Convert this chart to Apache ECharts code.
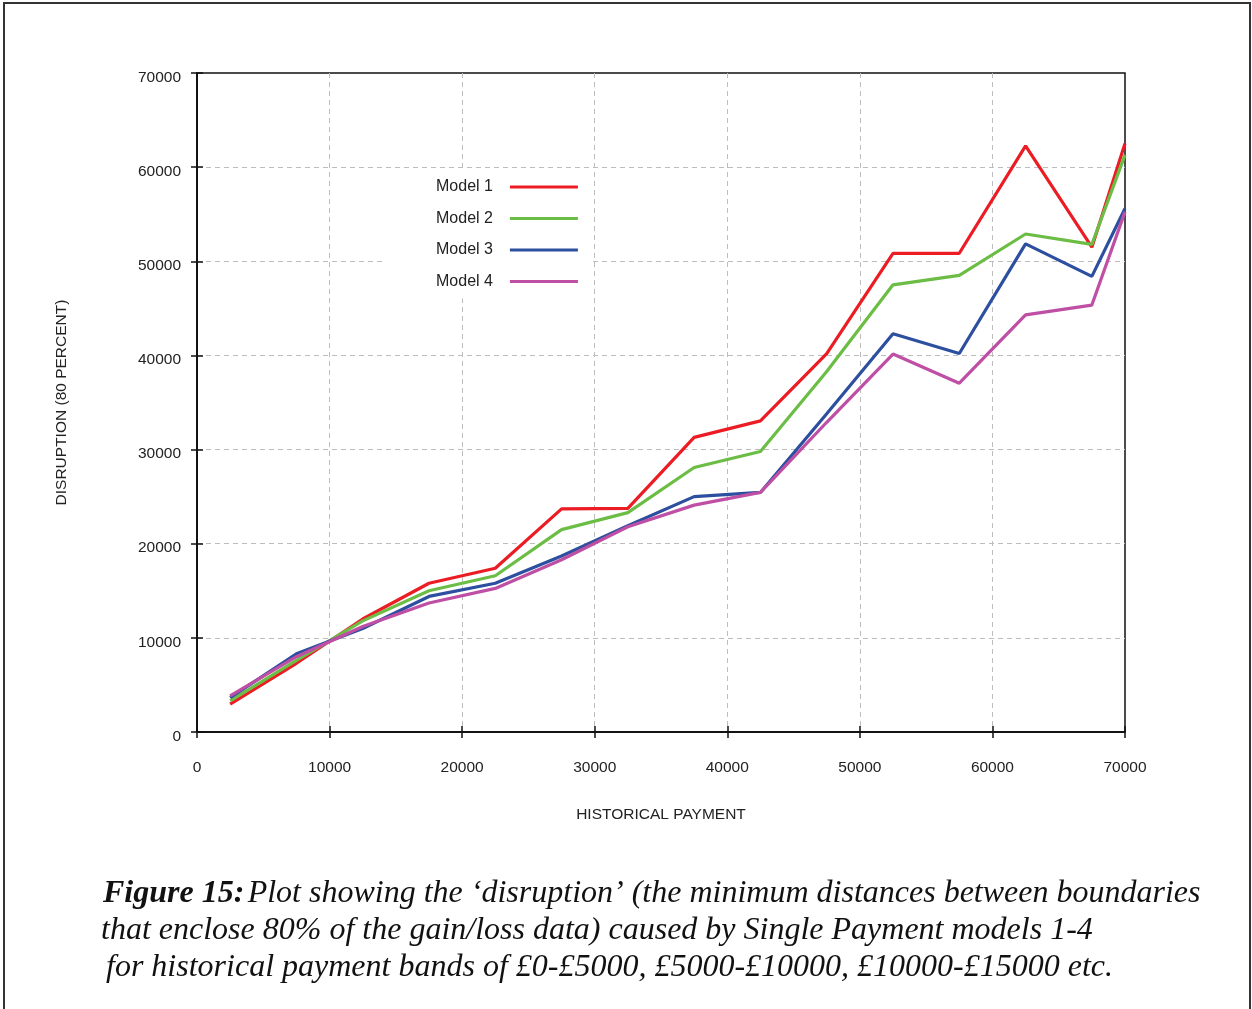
<!DOCTYPE html>
<html>
<head>
<meta charset="utf-8">
<script src="https://cdn.jsdelivr.net/npm/echarts@6/dist/echarts.min.js"></script>
<style>
html,body{margin:0;padding:0;background:#fff;}
#chart{width:1252px;height:1009px;}
</style>
</head>
<body>
<div id="chart"></div>
<script>
// Historical payment band midpoints (last point at axis end)
var payments = [2500, 7500, 12500, 17500, 22500, 27500, 32500, 37500, 42500, 47500, 52500, 57500, 62500, 67500, 70000];
var model1 = [2950, 7300, 12000, 15800, 17400, 23700, 23750, 31300, 33050, 40200, 50850, 50850, 62250, 51500, 62500];
var model2 = [3300, 7600, 11800, 15000, 16600, 21500, 23300, 28100, 29800, 38300, 47500, 48500, 52900, 51800, 61300];
var model3 = [3650, 8300, 11000, 14400, 15800, 18700, 21900, 25000, 25450, 33800, 42300, 40200, 51850, 48400, 55600];
var model4 = [3850, 8000, 11200, 13700, 15250, 18300, 21800, 24100, 25450, 32900, 40150, 37050, 44300, 45350, 55250];
var seriesNames = ['Model 1', 'Model 2', 'Model 3', 'Model 4'];
var seriesColors = ['#ec1c24', '#6cbd45', '#2d4f9f', '#bf4fa5'];
var xTicks = [0, 10000, 20000, 30000, 40000, 50000, 60000, 70000];
var yTicks = [0, 10000, 20000, 30000, 40000, 50000, 60000, 70000];

function pairs(vals){ return payments.map(function(x,i){ return [x, vals[i]]; }); }
var allVals = [model1, model2, model3, model4];

var chart = echarts.init(document.getElementById('chart'), null, {renderer:'canvas'});
var tickFont = {fontFamily:'Liberation Sans', fontSize:15.5, color:'#222'};
var gridLine = {show:true, showMinLine:false, showMaxLine:false, lineStyle:{color:'#bdbdbd', type:[5,4], width:1}};
var option = {
  animation:false,
  backgroundColor:'#fff',
  grid:{left:197, top:73, right:127, bottom:277, show:true, borderColor:'#111', borderWidth:1.5, backgroundColor:'transparent'},
  legend:{
    orient:'vertical', left:385, top:172, align:'right', icon:'rect',
    itemWidth:68, itemHeight:3, itemGap:15.5,
    padding:[7,12,9,51], backgroundColor:'#fff',
    textStyle:{fontFamily:'Liberation Sans', fontSize:16, color:'#222', padding:[0,12,0,0]},
    data: seriesNames
  },
  xAxis:[{
    type:'value', min:0, max:70000, interval:10000, position:'bottom',
    name:'HISTORICAL PAYMENT', nameLocation:'middle', nameGap:75,
    nameTextStyle:{fontFamily:'Liberation Sans', fontSize:15.5, color:'#222'},
    axisLine:{show:true, lineStyle:{color:'#111', width:1.5}},
    axisTick:{show:true, inside:true, length:6, lineStyle:{color:'#111', width:1.5}},
    axisLabel:Object.assign({margin:28, formatter:function(v){return String(v);}}, tickFont),
    splitLine:gridLine
  },{
    type:'value', min:0, max:70000, interval:10000, position:'top',
    axisLine:{show:true, lineStyle:{color:'#111', width:1.5}},
    axisTick:{show:true, inside:true, length:6, lineStyle:{color:'#111', width:1.5}},
    axisLabel:{show:false}, splitLine:{show:false}
  }],
  yAxis:[{
    type:'value', min:0, max:70000, interval:10000, position:'left',
    name:'DISRUPTION (80 PERCENT)', nameLocation:'middle', nameGap:127, nameRotate:90,
    nameTextStyle:{fontFamily:'Liberation Sans', fontSize:15.5, color:'#222'},
    axisLine:{show:true, lineStyle:{color:'#111', width:1.5}},
    axisTick:{show:true, inside:true, length:6, lineStyle:{color:'#111', width:1.5}},
    axisLabel:{margin:16, formatter:function(v){return '{v|' + v + '}';},
      rich:{v:{fontFamily:'Liberation Sans', fontSize:15.5, color:'#222', padding:[9,0,0,0]}}},
    splitLine:gridLine
  },{
    type:'value', min:0, max:70000, interval:10000, position:'right',
    axisLine:{show:true, lineStyle:{color:'#111', width:1.5}},
    axisTick:{show:true, inside:true, length:6, lineStyle:{color:'#111', width:1.5}},
    axisLabel:{show:false}, splitLine:{show:false}
  }],
  series: seriesNames.map(function(n,i){
    return {
      name:n, type:'line', xAxisIndex:0, yAxisIndex:0, data:pairs(allVals[i]),
      showSymbol:false, symbol:'none', clip:true, z:3,
      lineStyle:{color:seriesColors[i], width:3.2},
      itemStyle:{color:seriesColors[i]}
    };
  }),
  graphic:[
    {type:'rect', shape:{x:4,y:3,width:1246,height:1030}, style:{fill:'none', stroke:'#333', lineWidth:2}, silent:true, z:100},
    {type:'text', left:103, top:878, style:{
      text:'{b|Figure 15:} {i|Plot showing the ‘disruption’ (the minimum distances between boundaries}',
      rich:{b:{fontFamily:'Liberation Serif', fontStyle:'italic', fontWeight:'bold', fontSize:32, fill:'#111'},
            i:{fontFamily:'Liberation Serif', fontStyle:'italic', fontSize:32, fill:'#111'}}
    }},
    {type:'text', left:101, top:915, style:{
      text:'that enclose 80% of the gain/loss data) caused by Single Payment models 1-4',
      fontFamily:'Liberation Serif', fontStyle:'italic', fontSize:32, fill:'#111'
    }},
    {type:'text', left:106, top:952, style:{
      text:'for historical payment bands of £0-£5000, £5000-£10000, £10000-£15000 etc.',
      fontFamily:'Liberation Serif', fontStyle:'italic', fontSize:32, fill:'#111'
    }}
  ]
};
chart.setOption(option);
</script>
</body>
</html>
